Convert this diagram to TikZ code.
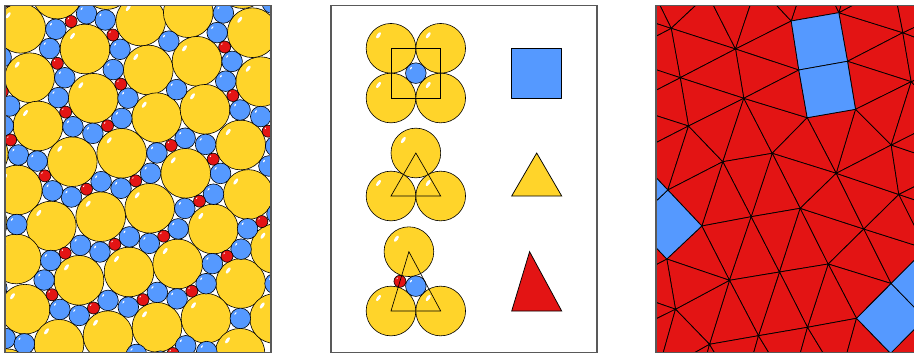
\documentclass[tikz,border=0pt]{standalone}
\usetikzlibrary{calc}
\definecolor{yel}{HTML}{FFD42A}
\definecolor{blu}{HTML}{5599FF}
\definecolor{redd}{HTML}{E31414}
\tikzset{
  frame/.style={draw=black!65, line width=1.1pt},
  ybal/.style={fill=yel, draw=black, line width=0.6pt},
  bbal/.style={fill=blu, draw=black, line width=0.6pt},
  rbal/.style={fill=redd, draw=black, line width=0.6pt},
  tile/.style={fill=redd, draw=black, line width=0.75pt, line join=round},
  sqtile/.style={fill=blu, draw=black, line width=0.75pt, line join=round},
  guide/.style={draw=black, line width=0.65pt, line join=miter},
}
\newcommand\Yb[1]{\path[ybal] (#1) circle (24.85);
  \fill[white] ($(#1)+(-12.5,-13)$) ellipse [x radius=3.6, y radius=1.6, rotate=55];}
\newcommand\Bb[1]{\path[bbal] (#1) circle (10.3);
  \fill[white] ($(#1)+(-4.9,-5)$) ellipse [x radius=1.7, y radius=0.8, rotate=55];}
\newcommand\Rb[1]{\path[rbal] (#1) circle (6);
  \fill[white] ($(#1)+(-2.8,-2.9)$) ellipse [x radius=1.1, y radius=0.55, rotate=55];}
\newcommand\CC[3]{%
  \path let \p1=(#1),\p2=(#2),\p3=(#3),
    \n1={(\x2-\x1)/100},\n2={(\y2-\y1)/100},
    \n3={(\x3-\x1)/100},\n4={(\y3-\y1)/100},
    \n5={2*((\n1)*(\n4)-(\n2)*(\n3))},
    \n6={(\n1)*(\n1)+(\n2)*(\n2)},\n7={(\n3)*(\n3)+(\n4)*(\n4)},
    \n8={100*((\n4)*(\n6)-(\n2)*(\n7))/(\n5)},
    \n9={100*((\n1)*(\n7)-(\n3)*(\n6))/(\n5)}
  in ({\x1+(\n8)*1pt},{\y1+(\n9)*1pt}) coordinate (cc);
  \Bb{cc}}
\newcommand\defV[1]{%
\coordinate (#1A) at (20.7,28.3);
\coordinate (#1B) at (85,49);
\coordinate (#1C) at (29.7,77.7);
\coordinate (#1D) at (93.3,98.3);
\coordinate (#1E) at (140.7,21);
\coordinate (#1F) at (188.3,12.7);
\coordinate (#1G) at (148.3,70);
\coordinate (#1H) at (197,61.3);
\coordinate (#1I) at (156.7,117.7);
\coordinate (#1J) at (205,109.3);
\coordinate (#1K) at (252.3,32.7);
\coordinate (#1L) at (260.7,81.7);
\coordinate (#1M) at (38,126);
\coordinate (#1N) at (72.3,161.7);
\coordinate (#1O) at (121.7,153.3);
\coordinate (#1P) at (185.7,173.3);
\coordinate (#1Q) at (240.7,145);
\coordinate (#1R) at (17.3,190);
\coordinate (#1S) at (51.3,226);
\coordinate (#1T) at (100.7,216.7);
\coordinate (#1U) at (149.7,208.3);
\coordinate (#1V) at (248.3,194.5);
\coordinate (#1W) at (213.3,229);
\coordinate (#1X) at (16.3,259);
\coordinate (#1Y) at (79,280.3);
\coordinate (#1Z) at (129,272);
\coordinate (#1a) at (177.7,264);
\coordinate (#1b) at (240.7,283.5);
\coordinate (#1c) at (25,309.2);
\coordinate (#1d) at (59,344.3);
\coordinate (#1e) at (108,335.7);
\coordinate (#1f) at (157,327.3);
\coordinate (#1g) at (206,318.3);
\coordinate (#1h) at (240,353.3);
\coordinate (#1Ta) at (-6.4,-26.9);
\coordinate (#1Tb) at (57.2,-5.9);
\coordinate (#1Tc) at (106.5,-15.4);
\coordinate (#1Td) at (161.6,-42.65);
\coordinate (#1Te) at (207,-51.6);
\coordinate (#1Tf) at (242.5,-16.4);
\coordinate (#1Tg) at (308,6.65);
\coordinate (#1La) at (-42.9,7.3);
\coordinate (#1Lb) at (-33.9,56.6);
\coordinate (#1Lc) at (-25,105.8);
\coordinate (#1Ld) at (-16.7,154);
\coordinate (#1Le) at (-17.7,223);
\coordinate (#1Lf) at (-51.7,187);
\coordinate (#1Lg) at (-38.2,287.3);
\coordinate (#1Lh) at (-30,336.5);
\coordinate (#1Ra) at (315,56.2);
\coordinate (#1Rb) at (295.6,117.4);
\coordinate (#1Rc) at (304.1,166.6);
\coordinate (#1Rd) at (311.7,216);
\coordinate (#1Re) at (275.4,248.7);
\coordinate (#1Rf) at (309.4,283.7);
\coordinate (#1Rg) at (274.7,318.5);
\coordinate (#1Ba) at (6.8,373.7);
\coordinate (#1Bb) at (42.2,409.1);
\coordinate (#1Bc) at (90.6,397);
\coordinate (#1Bd) at (139.9,388.3);
\coordinate (#1Be) at (189,379.8);
}
\newcommand\faces{%
\FF{A}{Ta}{Tb}\FF{A}{Tb}{B}\FF{A}{B}{C}\FF{A}{C}{Lb}\FF{A}{Lb}{La}\FF{A}{La}{Ta}
\FF{B}{Tb}{Tc}\FF{B}{Tc}{E}\FF{B}{E}{G}\FF{B}{G}{D}\FF{B}{D}{C}
\FF{C}{D}{M}\FF{C}{M}{Lc}\FF{C}{Lc}{Lb}\FF{M}{Lc}{Ld}\FF{M}{Ld}{R}\FF{M}{R}{N}\FF{M}{N}{D}
\FF{D}{N}{O}\FF{D}{O}{I}\FF{D}{I}{G}
\FF{F}{H}{K}\FF{H}{K}{L}\FF{H}{L}{J}\FF{J}{L}{Q}\FF{J}{Q}{P}\FF{J}{P}{I}\FF{I}{P}{O}
\FF{O}{P}{U}\FF{O}{U}{T}\FF{O}{T}{N}\FF{N}{T}{S}\FF{N}{S}{R}
\FF{S}{T}{Y}\FF{S}{Y}{X}\FF{T}{Y}{Z}\FF{T}{Z}{U}\FF{U}{Z}{a}\FF{U}{a}{W}\FF{U}{W}{P}
\FF{P}{W}{V}\FF{P}{V}{Q}\FF{Q}{V}{Rc}\FF{Q}{Rc}{Rb}\FF{Q}{Rb}{L}\FF{L}{Ra}{Rb}\FF{K}{Ra}{L}
\FF{K}{Tg}{Ra}\FF{K}{Tf}{Tg}\FF{F}{K}{Tf}\FF{F}{Tf}{Te}\FF{F}{Te}{Td}\FF{E}{F}{Td}\FF{E}{Td}{Tc}
\FF{W}{a}{b}\FF{W}{b}{Re}\FF{V}{W}{Re}\FF{V}{Re}{Rd}\FF{V}{Rd}{Rc}
\FF{a}{b}{g}\FF{a}{g}{f}\FF{a}{f}{Z}\FF{Z}{f}{e}\FF{Z}{e}{Y}\FF{Y}{e}{d}\FF{Y}{d}{c}\FF{Y}{c}{X}
\FF{X}{c}{Lg}\FF{X}{Lg}{Le}\FF{c}{Lg}{Lh}\FF{c}{Lh}{Ba}\FF{c}{d}{Ba}\FF{d}{Ba}{Bb}\FF{d}{Bb}{Bc}
\FF{d}{e}{Bc}\FF{e}{Bc}{Bd}\FF{e}{f}{Bd}\FF{f}{Bd}{Be}\FF{f}{g}{Be}\FF{g}{h}{Be}}
\newcommand\squares{\SQ{E}{F}{H}{G}\SQ{G}{H}{J}{I}\SQ{R}{S}{X}{Le}\SQ{R}{Le}{Lf}{Ld}\SQ{b}{g}{h}{Rg}\SQ{b}{Rg}{Rf}{Re}}
\newcommand\reds{%
\RE{A}{Ta}\RE{Tb}{B}\RE{B}{C}\RE{A}{Lb}\RE{B}{E}\RE{G}{D}\RE{D}{M}\RE{C}{Lc}\RE{M}{Ld}\RE{R}{N}
\RE{D}{O}\RE{H}{K}\RE{J}{L}\RE{Q}{P}\RE{I}{P}\RE{O}{U}\RE{N}{T}\RE{S}{Y}\RE{T}{Z}\RE{U}{a}
\RE{P}{W}\RE{V}{Rc}\RE{Q}{Rb}\RE{W}{b}\RE{V}{Re}\RE{a}{g}\RE{Z}{f}\RE{Y}{e}\RE{Y}{c}\RE{X}{Lg}
\RE{c}{Lh}\RE{d}{Ba}\RE{Tc}{Td}\RE{F}{Td}\RE{F}{Tf}\RE{K}{Tg}\RE{L}{Ra}\RE{d}{Bc}\RE{e}{Bd}\RE{f}{Be}\RE{h}{Be}}
\begin{document}
\begin{tikzpicture}[x=1pt,y=-1pt]
\useasboundingbox (0,0) rectangle (914,356);
% ---------- left panel: packing ----------
\begin{scope}
\clip (5,5.5) rectangle (271,352.5);
\defV{l}
\foreach \v in {A,B,C,D,E,F,G,H,I,J,K,L,M,N,O,P,Q,R,S,T,U,V,W,X,Y,Z,a,b,c,d,e,f,g,h,Ta,Tb,Tc,Td,Te,Tf,Tg,La,Lb,Lc,Ld,Le,Lf,Lg,Lh,Ra,Rb,Rc,Rd,Re,Rf,Rg,Ba,Bb,Bc,Bd,Be}{\Yb{l\v}}
\def\FF#1#2#3{\CC{l#1}{l#2}{l#3}}
\faces
\def\SQ#1#2#3#4{\path ($(l#1)!0.5!(l#3)$) coordinate (cc); \Bb{cc}}
\squares
\def\RE#1#2{\path ($(l#1)!0.5!(l#2)$) coordinate (cc); \Rb{cc}}
\reds
\end{scope}
\draw[frame] (5,5.5) rectangle (271,352.5);
% ---------- middle panel: tiles ----------
\draw[frame] (331,5.5) rectangle (597,352.5);
\coordinate (m1) at (391,48.3); \coordinate (m2) at (440.7,48.3);
\coordinate (m3) at (391,98); \coordinate (m4) at (440.7,98);
\coordinate (mb) at (415.85,73.15);
\Yb{m1}\Yb{m2}\Yb{m3}\Yb{m4}\Bb{mb}
\draw[guide] (m1) -- (m2) -- (m4) -- (m3) -- cycle;
\draw[sqtile] (511.7,48.3) rectangle (561.7,98);
\coordinate (t1) at (391,196); \coordinate (t2) at (440.7,196); \coordinate (t3) at (415.85,153);
\Yb{t3}\Yb{t1}\Yb{t2}
\draw[guide] (t1) -- (t2) -- (t3) -- cycle;
\coordinate (y1) at (511.7,196); \coordinate (y2) at (561.7,196); \coordinate (y3) at (536.7,153);
\draw[fill=yel, draw=black, line width=0.75pt, line join=miter] (y1) -- (y2) -- (y3) -- cycle;
\coordinate (u1) at (391,311); \coordinate (u2) at (440.7,311); \coordinate (u3) at (408.9,251.7);
\coordinate (ub) at (415.85,286.15); \coordinate (ur) at (399.95,281.35);
\Yb{u3}\Yb{u1}\Yb{u2}\Bb{ub}\Rb{ur}
\draw[guide] (u1) -- (u2) -- (u3) -- cycle;
\coordinate (r1) at (511.7,311); \coordinate (r2) at (561.7,311); \coordinate (r3) at (529.6,251.7);
\draw[fill=redd, draw=black, line width=0.75pt, line join=miter] (r1) -- (r2) -- (r3) -- cycle;
% ---------- right panel: tiling ----------
\begin{scope}[xshift=650.5pt]
\clip (5.5,5.5) rectangle (272,352.5);
\fill[redd] (5.5,5.5) rectangle (272,352.5);
\defV{r}
\def\FF#1#2#3{\draw[tile] (r#1) -- (r#2) -- (r#3) -- cycle;}
\faces
\def\SQ#1#2#3#4{\draw[sqtile] (r#1) -- (r#2) -- (r#3) -- (r#4) -- cycle;}
\squares
\end{scope}
\draw[frame] (656,5.5) rectangle (922,352.5);
\end{tikzpicture}
\end{document}
